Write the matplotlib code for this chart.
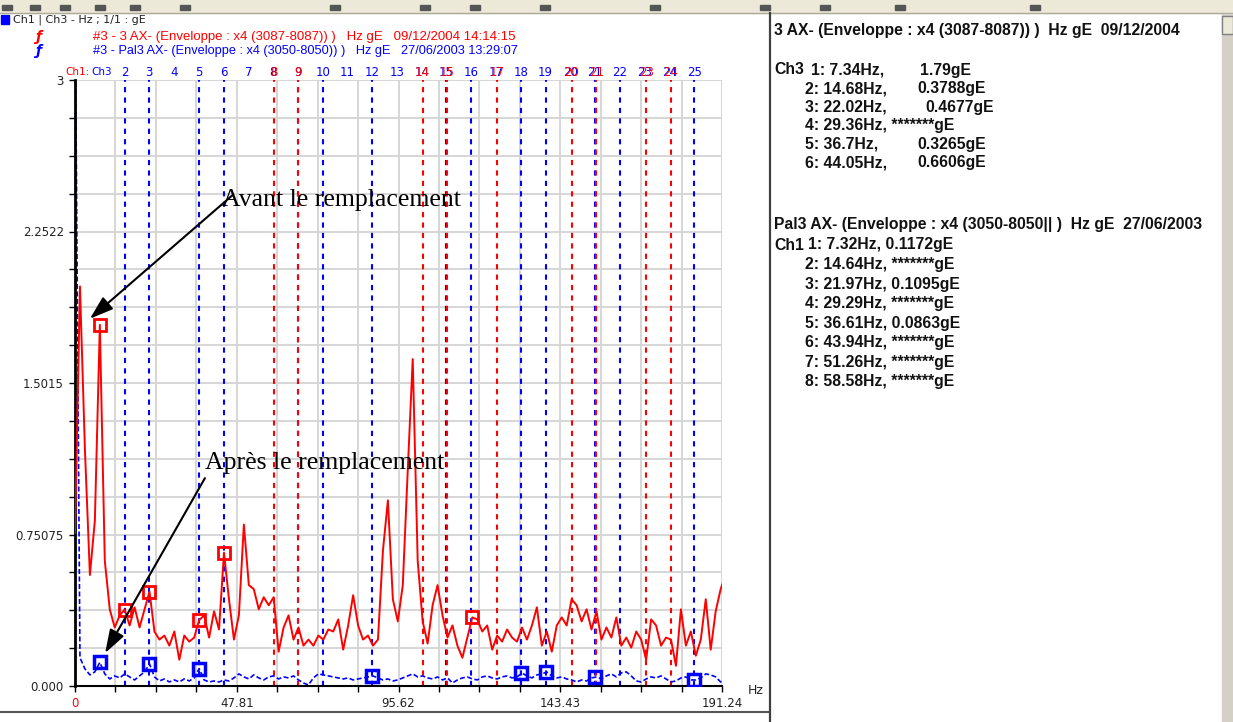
import numpy as np
import matplotlib.pyplot as plt
from matplotlib.patches import Rectangle
from matplotlib.lines import Line2D
import matplotlib.transforms as mtransforms

W, H = 1233, 722

# spectres d'enveloppe (gE), raie tous les 1.468 Hz
df_hz = 1.468
red_ge = [0.76, 1.98, 1.17, 0.55, 0.82, 1.79, 0.62, 0.38, 0.29, 0.35,
          0.3788, 0.30, 0.39, 0.29, 0.38, 0.4677, 0.27, 0.23, 0.25, 0.20,
          0.27, 0.13, 0.25, 0.22, 0.24, 0.3265, 0.35, 0.24, 0.37, 0.28,
          0.6606, 0.43, 0.23, 0.35, 0.80, 0.50, 0.48, 0.38, 0.44, 0.40,
          0.44, 0.17, 0.29, 0.35, 0.23, 0.29, 0.20, 0.23, 0.20, 0.25,
          0.23, 0.28, 0.27, 0.33, 0.18, 0.30, 0.45, 0.30, 0.23, 0.25,
          0.20, 0.23, 0.67, 0.92, 0.43, 0.32, 0.50, 1.07, 1.62, 0.62,
          0.32, 0.21, 0.40, 0.50, 0.35, 0.24, 0.30, 0.20, 0.14, 0.24,
          0.34, 0.33, 0.27, 0.30, 0.18, 0.25, 0.22, 0.28, 0.24, 0.22,
          0.29, 0.23, 0.30, 0.39, 0.20, 0.27, 0.17, 0.30, 0.34, 0.30,
          0.43, 0.40, 0.32, 0.38, 0.28, 0.37, 0.23, 0.29, 0.24, 0.34,
          0.20, 0.24, 0.19, 0.27, 0.23, 0.13, 0.33, 0.30, 0.20, 0.24,
          0.23, 0.10, 0.38, 0.20, 0.27, 0.15, 0.23, 0.43, 0.18, 0.37,
          0.48, 0.55]
blue_ge = [3.5, 0.14, 0.085, 0.055, 0.07, 0.1172, 0.06, 0.035, 0.05, 0.04,
           0.06, 0.045, 0.03, 0.05, 0.07, 0.1095, 0.045, 0.025, 0.035, 0.02,
           0.03, 0.02, 0.035, 0.025, 0.04, 0.0863, 0.03, 0.02, 0.025, 0.02,
           0.03, 0.025, 0.04, 0.06, 0.045, 0.035, 0.055, 0.04, 0.03, 0.045,
           0.05, 0.035, 0.045, 0.04, 0.05, 0.03, 0.015, 0.005, 0.04, 0.06,
           0.055, 0.05, 0.045, 0.04, 0.035, 0.04, 0.03, 0.035, 0.04, 0.045,
           0.05, 0.04, 0.03, 0.035, 0.025, 0.03, 0.04, 0.05, 0.06, 0.045,
           0.05, 0.04, 0.035, 0.045, 0.03, 0.04, 0.015, 0.03, 0.04, 0.045,
           0.035, 0.03, 0.045, 0.05, 0.04, 0.035, 0.045, 0.05, 0.04, 0.045,
           0.064, 0.05, 0.04, 0.055, 0.06, 0.069, 0.05, 0.04, 0.045, 0.035,
           0.03, 0.02, 0.03, 0.025, 0.04, 0.045, 0.035, 0.05, 0.06, 0.045,
           0.065, 0.07, 0.05, 0.025, 0.02, 0.035, 0.045, 0.04, 0.05, 0.035,
           0.02, 0.025, 0.04, 0.045, 0.03, 0.03, 0.04, 0.06, 0.055, 0.045,
           0.02, 0.03]

# fondamentales et harmoniques affichees
red_f1 = 7.34
blue_f1 = 7.32
red_lines = [8, 9, 14, 15, 17, 20, 21, 23, 24]
blue_lines = [2, 3, 5, 6, 9, 10, 12, 15, 16, 18, 19, 21, 22, 25]
red_mark_n = [1, 2, 3, 5, 6, 16]
red_mark_v = [1.79, 0.3788, 0.4677, 0.3265, 0.6606, 0.34]
blue_mark_n = [1, 3, 5, 12, 18, 19, 21, 25]
blue_mark_v = [0.1172, 0.1095, 0.0863, 0.05, 0.064, 0.069, 0.045, 0.03]

x_max = 191.24
y_max = 3.003
x_ticks = [0, 47.81, 95.62, 143.43, 191.24]
x_labels = ['0', '47.81', '95.62', '143.43', '191.24']
y_ticks = [0, 0.75075, 1.5015, 2.25225, 3.003]
y_labels = ['0.000', '0.75075', '1.5015', '2.2522', '3']

# textes du panneau de droite
red_title = '3 AX- (Enveloppe : x4 (3087-8087)) )  Hz gE  09/12/2004'
red_rows = [('Ch3', '1: 7.34Hz,', '1.79gE'),
            ('', '2: 14.68Hz,', '0.3788gE'),
            ('', '3: 22.02Hz,', '0.4677gE'),
            ('', '4: 29.36Hz, *******gE', ''),
            ('', '5: 36.7Hz,', '0.3265gE'),
            ('', '6: 44.05Hz,', '0.6606gE')]
red_val_x = [920, 917, 925, 0, 917, 917]
blue_title = 'Pal3 AX- (Enveloppe : x4 (3050-8050|| )  Hz gE  27/06/2003'
blue_rows = [('Ch1', '1: 7.32Hz, 0.1172gE'),
             ('', '2: 14.64Hz, *******gE'),
             ('', '3: 21.97Hz, 0.1095gE'),
             ('', '4: 29.29Hz, *******gE'),
             ('', '5: 36.61Hz, 0.0863gE'),
             ('', '6: 43.94Hz, *******gE'),
             ('', '7: 51.26Hz, *******gE'),
             ('', '8: 58.58Hz, *******gE')]

RED = '#ff0000'
BLUE = '#0000ff'

plt.rcParams['font.family'] = ['DejaVu Sans']


def fx(x):
    return x / W


def fy(y):
    return 1 - y / H


fig = plt.figure(figsize=(W / 100, H / 100), dpi=100)
fig.patch.set_facecolor('white')

ax = fig.add_axes([fx(75), fy(686), 647 / W, 606 / H])
ax.set_xlim(0, x_max)
ax.set_ylim(0, y_max)
ax.set_xticks(x_ticks)
ax.set_xticklabels(x_labels)
ax.set_yticks(y_ticks)
ax.set_yticklabels(y_labels)
ax.set_xticks(np.linspace(0, x_max, 17), minor=True)
ax.set_yticks(np.linspace(0, y_max, 17), minor=True)
ax.grid(which='both', color='#d6d6d6', lw=1.4)
ax.set_axisbelow(True)
ax.tick_params(which='both', direction='out', length=4, width=1, color='black',
               labelsize=8.5, labelcolor='#222222', pad=4)
ax.get_xticklabels()[0].set_color(RED)
for s in ['top', 'right']:
    ax.spines[s].set_visible(False)
ax.spines['left'].set_linewidth(2)
ax.spines['bottom'].set_linewidth(1.5)

# lignes d'harmoniques
dash = (0, (2.5, 2.5))
for n in blue_lines:
    ax.axvline(n * blue_f1, color=BLUE, ls=dash, lw=1.5, zorder=1.5)
for n in red_lines:
    ax.axvline(n * red_f1, color=RED, ls=dash, lw=1.5, zorder=1.6)

lbl_tr = mtransforms.blended_transform_factory(ax.transData, ax.transAxes)
for n in range(2, 26):
    ax.text(n * blue_f1, 1.013, str(n), transform=lbl_tr, color=BLUE,
            fontsize=8.5, ha='center', va='center', clip_on=False)
for n in red_lines:
    ax.text(n * red_f1, 1.013, str(n), transform=lbl_tr, color=RED,
            fontsize=8.5, ha='center', va='center', clip_on=False)
fig.text(fx(65), fy(72), 'Ch1:', color=RED, fontsize=7.5, va='center')
fig.text(fx(91), fy(72), 'Ch3', color=BLUE, fontsize=7.5, va='center')

# spectres
freqs = np.arange(len(red_ge)) * df_hz
ax.plot(freqs, blue_ge, color=BLUE, lw=1.2, ls=(0, (3, 1.5)), zorder=2)
ax.plot(freqs, red_ge, color=RED, lw=1.4, zorder=3)

ax.plot([n * blue_f1 for n in blue_mark_n], blue_mark_v, ls='none', marker='s',
        ms=9, mfc='none', mec=BLUE, mew=2.5, zorder=4)
ax.plot([n * red_f1 for n in red_mark_n], red_mark_v, ls='none', marker='s',
        ms=9, mfc='none', mec=RED, mew=2, zorder=4)

# annotations avant / apres
arrow = dict(arrowstyle='-|>,head_length=0.9,head_width=0.3', color='black',
             lw=1.5, mutation_scale=16, shrinkA=0, shrinkB=0)
ax.annotate('', xy=(4.4, 1.82), xytext=(46.4, 2.43), arrowprops=arrow, zorder=5)
ax.annotate('', xy=(8.9, 0.163), xytext=(38.4, 1.03), arrowprops=arrow, zorder=5)
ax.text(43.4, 2.41, 'Avant le remplacement', family='Liberation Serif',
        fontsize=18.5, va='center', ha='left', zorder=5)
ax.text(38.4, 1.105, 'Après le remplacement', family='Liberation Serif',
        fontsize=18.5, va='center', ha='left', zorder=5)

fig.text(fx(748), fy(690), 'Hz', fontsize=9, va='center', color='#222222')

# en-tete du graphe
fig.add_artist(Rectangle((fx(1), fy(24)), 8 / W, 9 / H, color=BLUE,
                         transform=fig.transFigure))
fig.text(fx(13), fy(20), 'Ch1 | Ch3 - Hz ; 1/1 : gE', fontsize=8,
         va='center', color='#222222')
fig.text(fx(35), fy(37), 'ƒ', color=RED, fontsize=10, style='italic',
         weight='bold', va='center')
fig.text(fx(35), fy(51), 'ƒ', color=BLUE, fontsize=10, style='italic',
         weight='bold', va='center')
fig.text(fx(93), fy(37),
         '#3 - 3 AX- (Enveloppe : x4 (3087-8087)) )   Hz gE   09/12/2004 14:14:15',
         color=RED, fontsize=9.5, va='center', family='Liberation Sans')
fig.text(fx(93), fy(51),
         '#3 - Pal3 AX- (Enveloppe : x4 (3050-8050)) )   Hz gE   27/06/2003 13:29:07',
         color=BLUE, fontsize=9.2, va='center', family='Liberation Sans')

# barre d'outils, separation et ascenseurs
fig.add_artist(Rectangle((0, fy(13)), 1, 13 / H, color='#ece9d8',
                         transform=fig.transFigure, zorder=8))
for x0 in [2, 30, 60, 95, 130, 180, 330, 420, 470, 540, 650, 760, 820, 895, 1030]:
    fig.add_artist(Rectangle((fx(x0), fy(10)), 10 / W, 5 / H, color='#555555',
                             transform=fig.transFigure, zorder=9))
fig.add_artist(Line2D([0, 1], [fy(13), fy(13)], color='#aca899', lw=1,
                      transform=fig.transFigure, zorder=9))
fig.add_artist(Line2D([fx(770), fx(770)], [0, fy(13)], color='#404040', lw=1.6,
                      transform=fig.transFigure, zorder=9))
fig.add_artist(Line2D([0, fx(768)], [fy(712), fy(712)], color='#555555', lw=1.5,
                      transform=fig.transFigure, zorder=9))
fig.add_artist(Rectangle((fx(1222), 0), 11 / W, fy(14), color='#d4d0c8',
                         transform=fig.transFigure, zorder=10))
fig.add_artist(Rectangle((fx(1222), fy(34)), 11 / W, 18 / H, fc='#ece9d8',
                         ec='#808080', lw=1, transform=fig.transFigure, zorder=11))

# panneau de droite
pkw = dict(fontsize=11.3, weight='bold', va='center', family='Liberation Sans',
           color='#111111')
fig.text(fx(774), fy(30), red_title, **pkw)
for k, (ch, freq, val) in enumerate(red_rows):
    y = 70 + k * 18.6
    if ch:
        fig.text(fx(774), fy(y), ch, **pkw)
        fig.text(fx(811), fy(y), freq, **pkw)
    else:
        fig.text(fx(805), fy(y), freq, **pkw)
    if val:
        fig.text(fx(red_val_x[k]), fy(y), val, **pkw)

fig.text(fx(774), fy(225), blue_title, **pkw)
for k, (ch, row) in enumerate(blue_rows):
    y = 245 + k * 19.5
    if ch:
        fig.text(fx(774), fy(y), ch, **pkw)
        fig.text(fx(808), fy(y), row, **pkw)
    else:
        fig.text(fx(805), fy(y), row, **pkw)

fig.savefig('out.png', dpi=100)
